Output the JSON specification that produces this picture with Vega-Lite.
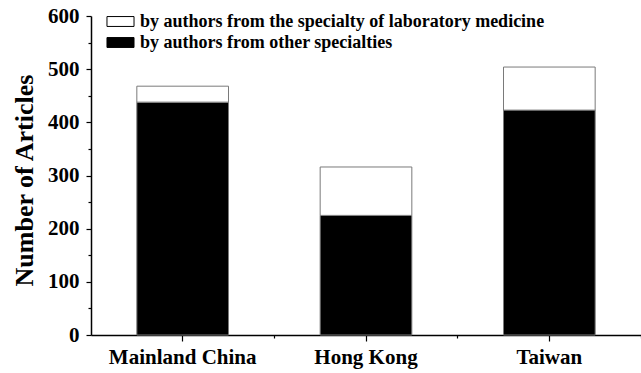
{
  "$schema": "https://vega.github.io/schema/vega-lite/v6.json",
  "autosize": "none",
  "width": 550,
  "height": 319,
  "padding": {"left": 91, "top": 16, "right": 0, "bottom": 38},
  "background": "white",
  "config": {
    "view": {"stroke": null},
    "font": "Liberation Serif"
  },
  "data": {
    "values": [
      {"region": "Mainland China", "group": "by authors from other specialties", "articles": 438},
      {"region": "Mainland China", "group": "by authors from the specialty of laboratory medicine", "articles": 30},
      {"region": "Hong Kong", "group": "by authors from other specialties", "articles": 225},
      {"region": "Hong Kong", "group": "by authors from the specialty of laboratory medicine", "articles": 91},
      {"region": "Taiwan", "group": "by authors from other specialties", "articles": 423},
      {"region": "Taiwan", "group": "by authors from the specialty of laboratory medicine", "articles": 81}
    ]
  },
  "layer": [
    {
      "mark": {"type": "bar", "stroke": "#7a7a7a", "strokeWidth": 1},
      "encoding": {
        "x": {
          "field": "region",
          "type": "nominal",
          "sort": ["Mainland China", "Hong Kong", "Taiwan"],
          "scale": {"paddingInner": 0.5, "paddingOuter": 0.25},
          "axis": {
            "title": null,
            "orient": "bottom",
            "labelAngle": 0,
            "labelFont": "Liberation Serif",
            "labelFontWeight": "bold",
            "labelFontSize": 21,
            "labelColor": "black",
            "labelPadding": 5,
            "tickSize": 6,
            "tickColor": "black",
            "tickWidth": 1.2,
            "domainColor": "black",
            "domainWidth": 1.5
          }
        },
        "y": {
          "field": "articles",
          "type": "quantitative",
          "stack": "zero",
          "scale": {"domain": [0, 600], "nice": false},
          "axis": {
            "title": "Number of Articles",
            "titleFont": "Liberation Serif",
            "titleFontWeight": "bold",
            "titleFontSize": 26,
            "titleColor": "black",
            "titlePadding": 10,
            "titleY": 164,
            "values": [0, 50, 100, 150, 200, 250, 300, 350, 400, 450, 500, 550, 600],
            "labelExpr": "datum.value % 100 === 0 ? datum.label : ''",
            "labelFont": "Liberation Serif",
            "labelFontWeight": "bold",
            "labelFontSize": 21,
            "labelColor": "black",
            "labelPadding": 7,
            "tickSize": {"condition": {"test": "datum.value % 100 === 0", "value": 5}, "value": 3},
            "tickColor": "black",
            "tickWidth": 1.2,
            "domainColor": "black",
            "domainWidth": 1.5,
            "grid": false
          }
        },
        "color": {
          "field": "group",
          "type": "nominal",
          "scale": {
            "domain": ["by authors from the specialty of laboratory medicine", "by authors from other specialties"],
            "range": ["white", "black"]
          },
          "legend": {
            "title": null,
            "orient": "none",
            "legendX": 18,
            "legendY": -6,
            "padding": 0,
            "symbolType": "M-1.23,-0.45H1.23V0.45H-1.23Z",
            "symbolSize": 484,
            "symbolStrokeColor": "black",
            "symbolStrokeWidth": 1,
            "symbolOpacity": 1,
            "labelFont": "Liberation Serif",
            "labelFontWeight": "bold",
            "labelFontSize": 18,
            "labelColor": "black",
            "labelOffset": 8,
            "rowPadding": 0,
            "labelLimit": 600
          }
        },
        "order": {"field": "group", "sort": "ascending"}
      }
    },
    {
      "mark": {"type": "bar", "opacity": 0},
      "encoding": {
        "x": {
          "field": "region",
          "type": "nominal",
          "sort": ["Mainland China", "Hong Kong", "Taiwan"],
          "axis": {
            "title": null,
            "orient": "bottom",
            "labels": false,
            "domain": false,
            "bandPosition": 1.5,
            "tickSize": 3,
            "tickColor": "black",
            "tickWidth": 1.2
          }
        }
      }
    }
  ],
  "resolve": {"axis": {"x": "independent"}}
}
